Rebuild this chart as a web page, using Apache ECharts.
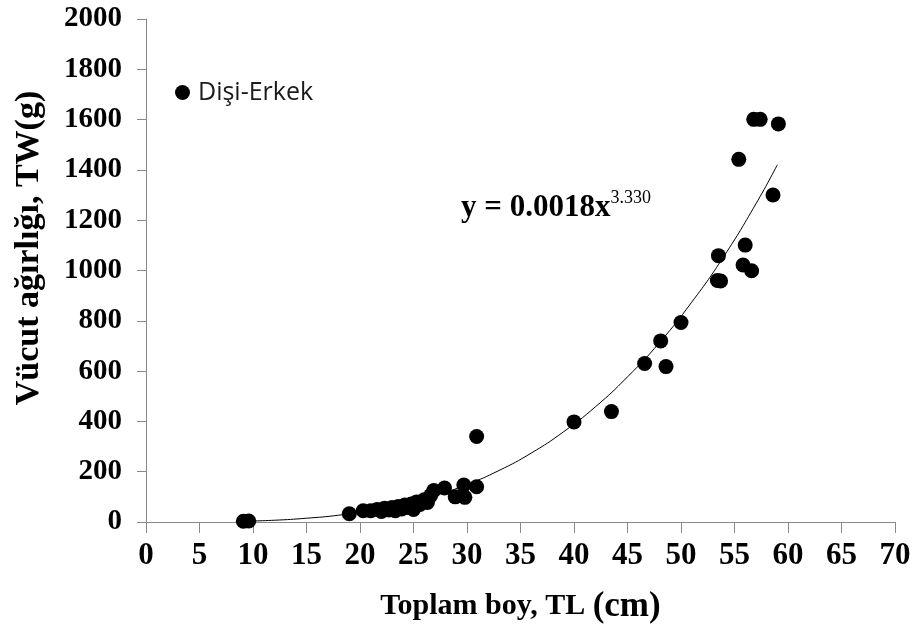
<!DOCTYPE html>
<html>
<head>
<meta charset="utf-8">
<script src="https://cdn.jsdelivr.net/npm/echarts@6/dist/echarts.min.js"></script>
<style>html,body{margin:0;padding:0;background:#fff;}#c{width:915px;height:634px;}</style>
</head>
<body>
<div id="c"></div>
<script>
// Observed points: total length (cm) and body weight (g)
var lengths = [9.1, 9.6, 19.0, 20.3, 21.0, 21.6, 22.0, 22.3, 22.7, 23.0, 23.3, 23.6, 23.9, 24.2, 24.5, 24.8, 25.0, 25.3, 25.6, 26.0, 26.3, 26.6, 26.9, 27.9, 28.9, 29.7, 29.8, 30.9, 30.9, 40.0, 43.5, 46.6, 48.1, 48.6, 50.0, 53.5, 53.4, 53.7, 55.4, 55.8, 56.0, 56.6, 56.8, 57.4, 58.6, 59.1];
var weights = [3, 4, 33, 45, 45, 50, 42, 55, 48, 58, 45, 62, 52, 68, 58, 72, 50, 80, 70, 88, 78, 105, 125, 135, 100, 147, 98, 140, 340, 398, 439, 630, 720, 618, 793, 1059, 960, 958, 1442, 1022, 1101, 999, 1601, 1601, 1300, 1583];
// Trend curve
var trendX = [9, 12, 15, 18, 21, 24, 27, 30, 33, 36, 39, 42, 45, 48, 51, 54, 57, 59];
var trendY = [3, 7, 15, 27, 46, 71, 105, 149, 205, 274, 358, 458, 577, 714, 874, 1056, 1265, 1420];
var xTicks = [0, 70, 5];
var yTicks = [0, 2000, 200];
var seriesName = 'Dişi-Erkek';
var equationMain = 'y = 0.0018x';
var equationExp = '3.330';
var xName = 'Toplam boy, TL ';
var xUnit = '(cm)';
var yName = 'Vücut ağırlığı, TW(g)';

var pts = lengths.map(function (v, i) { return [v, weights[i]]; });
var trend = trendX.map(function (v, i) { return [v, trendY[i]]; });
var serif = '"Liberation Serif", "Times New Roman", serif';

var chart = echarts.init(document.getElementById('c'), null, {renderer: 'canvas'});
chart.setOption({
  animation: false,
  backgroundColor: '#ffffff',
  grid: {left: 146, right: 20, top: 19, bottom: 112, containLabel: false},
  legend: {
    data: [{name: seriesName, icon: 'circle'}],
    left: 175, top: 80, padding: 0,
    itemWidth: 15, itemHeight: 15,
    textStyle: {fontFamily: '"Open Sans", "Noto Sans", sans-serif', fontSize: 25, color: '#1a1a1a', padding: [0, 0, 0, 3]}
  },
  xAxis: {
    type: 'value', min: xTicks[0], max: xTicks[1], interval: xTicks[2],
    name: '{a|' + xName + '}{b|' + xUnit + '}',
    nameLocation: 'middle', nameGap: 67,
    nameTextStyle: {
      rich: {
        a: {fontFamily: serif, fontWeight: 'bold', fontSize: 30, color: '#000'},
        b: {fontFamily: serif, fontWeight: 'bold', fontSize: 35, color: '#000'}
      }
    },
    axisLine: {show: true, onZero: false, lineStyle: {color: '#888', width: 1}},
    axisTick: {show: true, length: 11, lineStyle: {color: '#888'}},
    axisLabel: {margin: 18, fontFamily: serif, fontWeight: 'bold', fontSize: 31, color: '#000'},
    splitLine: {show: false}
  },
  yAxis: {
    type: 'value', min: yTicks[0], max: yTicks[1], interval: yTicks[2],
    axisLine: {show: true, onZero: false, lineStyle: {color: '#888', width: 1}},
    axisTick: {show: true, length: 9, lineStyle: {color: '#888'}},
    axisLabel: {margin: 24, fontFamily: serif, fontWeight: 'bold', fontSize: 29, color: '#000',
      formatter: function (v) { return String(v); }},
    splitLine: {show: false}
  },
  graphic: [
    {
      type: 'text', x: 29, y: 248, rotation: Math.PI / 2,
      style: {text: yName, fontFamily: serif, fontWeight: 'bold', fontSize: 34, fill: '#000', align: 'center', verticalAlign: 'middle'}
    },
    {
      type: 'text', x: 461, y: 206,
      style: {
        text: '{m|' + equationMain + '}{s|' + equationExp + '}',
        align: 'left', verticalAlign: 'middle',
        rich: {
          m: {fontFamily: serif, fontWeight: 'bold', fontSize: 31, fill: '#000', lineHeight: 34, verticalAlign: 'bottom'},
          s: {fontFamily: serif, fontSize: 18, fill: '#000', lineHeight: 34, verticalAlign: 'top'}
        }
      }
    }
  ],
  series: [
    {
      name: 'trend', type: 'line', data: trend, smooth: true, showSymbol: false, symbol: 'none',
      lineStyle: {color: '#000', width: 1}, silent: true, z: 1
    },
    {
      name: seriesName, type: 'scatter', data: pts, symbol: 'circle', symbolSize: 15,
      itemStyle: {color: '#000', opacity: 1}, z: 2
    }
  ]
});
</script>
</body>
</html>
